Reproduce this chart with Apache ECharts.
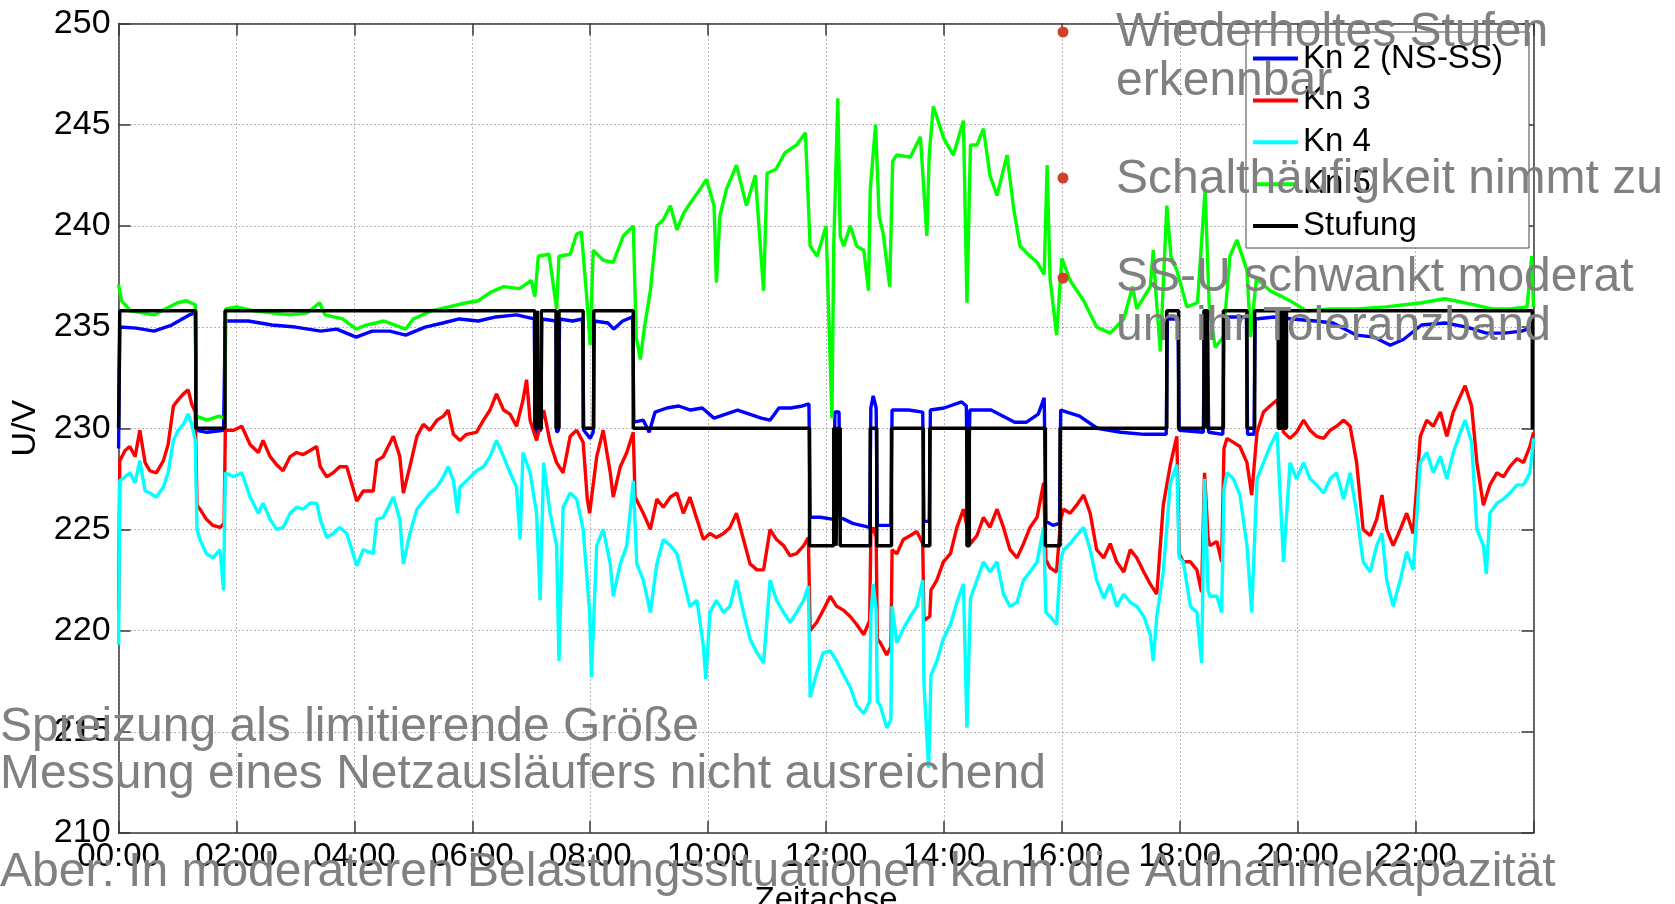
<!DOCTYPE html>
<html>
<head>
<meta charset="utf-8">
<script src="https://cdn.jsdelivr.net/npm/echarts@6/dist/echarts.min.js"></script>
<style>
html,body{margin:0;padding:0;background:#fff;}
#chart{width:1675px;height:904px;}
</style>
</head>
<body>
<div id="chart"></div>
<script>
// ---- data (hours of day, volts) ----
const seriesNames = ['Kn 2 (NS-SS)', 'Kn 3', 'Kn 4', 'Kn 5', 'Stufung'];
const xTickLabels = ['00:00','02:00','04:00','06:00','08:00','10:00','12:00','14:00','16:00','18:00','20:00','22:00'];
const yTicks = [210, 215, 220, 225, 230, 235, 240, 245, 250];

const kn2 = [[0,229.0],[0.02,235.0],[0.3,234.95],[0.6,234.8],[0.9,235.1],[1.2,235.6],[1.3,235.7],[1.32,229.9],[1.5,229.8],[1.78,229.9],[1.81,235.3],[2.2,235.3],[2.6,235.1],[3.0,235.0],[3.43,234.8],[3.7,234.9],[4.03,234.5],[4.3,234.8],[4.6,234.8],[4.87,234.6],[5.2,235.0],[5.5,235.2],[5.78,235.4],[6.1,235.3],[6.4,235.5],[6.75,235.6],[7.05,235.4],[7.07,229.8],[7.16,229.9],[7.18,235.4],[7.42,235.3],[7.43,229.8],[7.46,229.9],[7.48,235.4],[7.7,235.3],[7.87,235.4],[7.89,229.9],[8.0,229.5],[8.05,229.8],[8.07,235.3],[8.3,235.2],[8.4,234.9],[8.55,235.3],[8.72,235.5],[8.74,230.3],[8.9,230.4],[9.0,229.8],[9.1,230.8],[9.3,231.0],[9.5,231.1],[9.7,230.9],[9.9,231.0],[10.1,230.5],[10.3,230.7],[10.5,230.9],[10.7,230.7],[10.9,230.5],[11.05,230.4],[11.2,231.0],[11.4,231.0],[11.6,231.1],[11.71,231.2],[11.73,225.6],[11.9,225.6],[12.13,225.5],[12.15,230.8],[12.22,230.8],[12.24,225.6],[12.45,225.3],[12.74,225.1],[12.76,231.0],[12.8,231.6],[12.85,231.0],[12.87,225.2],[13.1,225.2],[13.12,230.9],[13.4,230.9],[13.64,230.8],[13.66,225.4],[13.75,225.4],[13.77,230.9],[14.0,231.0],[14.3,231.3],[14.38,231.1],[14.40,225.5],[14.42,225.5],[14.44,230.9],[14.8,230.9],[15.2,230.3],[15.4,230.3],[15.6,230.7],[15.7,231.5],[15.73,225.4],[15.85,225.2],[15.96,225.3],[15.98,230.9],[16.3,230.6],[16.6,230.0],[17.0,229.8],[17.4,229.7],[17.77,229.7],[17.79,235.4],[17.97,235.4],[17.99,229.9],[18.4,229.8],[18.42,235.4],[18.47,235.4],[18.49,229.8],[18.73,229.7],[18.75,235.5],[19.13,235.5],[19.15,229.7],[19.26,229.7],[19.28,235.4],[19.6,235.5],[19.9,235.4],[20.3,235.3],[20.6,235.2],[21.0,234.6],[21.3,234.5],[21.57,234.1],[21.8,234.4],[22.1,235.1],[22.5,235.2],[22.87,235.0],[23.2,234.7],[23.5,234.7],[23.8,234.8],[24,235.0]];

const kn3 = [[0,221.0],[0.02,228.4],[0.11,228.9],[0.19,229.1],[0.28,228.6],[0.36,229.9],[0.45,228.3],[0.53,227.9],[0.64,227.8],[0.76,228.4],[0.84,229.2],[0.93,231.1],[1.01,231.4],[1.1,231.7],[1.18,231.9],[1.24,231.2],[1.3,230.8],[1.33,226.2],[1.38,226.0],[1.49,225.5],[1.6,225.2],[1.72,225.1],[1.79,225.3],[1.81,229.9],[1.95,229.9],[2.09,230.1],[2.23,229.2],[2.37,228.8],[2.45,229.4],[2.57,228.6],[2.68,228.2],[2.79,227.9],[2.91,228.6],[3.02,228.8],[3.13,228.7],[3.25,228.9],[3.36,229.1],[3.42,228.1],[3.53,227.6],[3.64,227.8],[3.75,228.1],[3.87,228.1],[4.04,226.4],[4.15,226.9],[4.32,226.9],[4.38,228.4],[4.49,228.6],[4.66,229.6],[4.77,228.6],[4.83,226.8],[4.94,228.1],[5.06,229.6],[5.17,230.2],[5.28,229.9],[5.4,230.4],[5.51,230.6],[5.59,230.9],[5.68,229.7],[5.79,229.4],[5.9,229.7],[6.07,229.8],[6.19,230.4],[6.3,230.9],[6.41,231.7],[6.53,230.9],[6.64,230.7],[6.75,230.1],[6.86,231.4],[6.92,232.4],[6.98,230.4],[7.09,229.4],[7.21,230.9],[7.32,229.3],[7.43,228.3],[7.54,227.8],[7.66,229.6],[7.77,229.9],[7.88,229.3],[7.95,226.5],[7.99,225.8],[8.11,228.6],[8.22,229.9],[8.34,227.8],[8.39,226.6],[8.51,228.1],[8.62,228.8],[8.73,229.8],[8.76,226.6],[8.9,225.8],[9.02,225.0],[9.13,226.5],[9.24,226.1],[9.36,226.6],[9.47,226.8],[9.58,225.8],[9.69,226.6],[9.81,225.5],[9.92,224.5],[10.03,224.8],[10.14,224.6],[10.26,224.8],[10.37,225.1],[10.48,225.8],[10.6,224.5],[10.71,223.3],[10.83,223.0],[10.94,223.0],[11.05,225.0],[11.16,224.5],[11.28,224.2],[11.39,223.7],[11.5,223.8],[11.62,224.2],[11.7,224.6],[11.73,220.0],[11.84,220.4],[11.95,221.0],[12.07,221.7],[12.18,221.2],[12.3,221.0],[12.41,220.7],[12.52,220.3],[12.64,219.8],[12.74,220.5],[12.76,224.8],[12.8,225.1],[12.85,224.6],[12.87,219.6],[12.92,219.4],[13.03,218.8],[13.1,219.2],[13.12,224.0],[13.2,223.8],[13.31,224.5],[13.43,224.7],[13.54,224.9],[13.64,224.3],[13.66,220.5],[13.76,220.7],[13.78,222.0],[13.88,222.5],[13.99,223.4],[14.11,223.8],[14.22,225.1],[14.33,226.0],[14.45,224.3],[14.56,224.7],[14.67,225.6],[14.78,225.1],[14.9,226.0],[15.01,225.1],[15.12,224.0],[15.24,223.6],[15.35,224.3],[15.46,225.1],[15.58,225.6],[15.69,227.3],[15.73,223.5],[15.8,223.1],[15.91,222.9],[15.98,225.5],[16.03,226.0],[16.14,225.8],[16.25,226.2],[16.37,226.7],[16.48,225.8],[16.59,224.0],[16.71,223.6],[16.82,224.3],[16.93,223.4],[17.05,222.9],[17.16,224.0],[17.27,223.6],[17.39,222.9],[17.5,222.3],[17.61,221.8],[17.72,226.2],[17.84,228.2],[17.95,229.6],[17.99,223.8],[18.06,223.4],[18.18,223.4],[18.29,223.0],[18.37,221.9],[18.42,227.8],[18.48,224.6],[18.51,224.2],[18.63,224.4],[18.71,223.4],[18.75,229.0],[18.8,229.5],[18.91,229.3],[19.02,229.1],[19.14,228.3],[19.22,226.7],[19.31,229.8],[19.42,230.8],[19.53,231.1],[19.65,231.4],[19.76,229.8],[19.87,229.5],[19.98,229.8],[20.1,230.4],[20.21,229.9],[20.32,229.6],[20.44,229.5],[20.55,229.9],[20.66,230.1],[20.78,230.4],[20.89,230.1],[21.0,228.3],[21.11,225.0],[21.23,224.7],[21.34,225.5],[21.43,226.7],[21.51,225.0],[21.62,224.2],[21.74,225.0],[21.85,225.8],[21.96,224.8],[22.08,229.6],[22.19,230.4],[22.3,230.1],[22.42,230.8],[22.53,229.6],[22.64,230.8],[22.76,231.6],[22.84,232.1],[22.95,231.1],[23.04,228.3],[23.15,226.2],[23.26,227.2],[23.38,227.8],[23.49,227.6],[23.6,228.1],[23.72,228.5],[23.83,228.3],[23.94,229.1],[24,229.8]];

const kn4 = [[0,219.3],[0.02,227.4],[0.11,227.6],[0.19,227.8],[0.28,227.3],[0.36,228.4],[0.45,226.9],[0.53,226.8],[0.64,226.6],[0.76,227.1],[0.84,227.8],[0.93,229.4],[1.01,229.9],[1.1,230.2],[1.18,230.7],[1.24,230.2],[1.3,229.4],[1.33,225.0],[1.38,224.5],[1.49,223.8],[1.6,223.6],[1.72,224.0],[1.78,222.0],[1.81,227.8],[1.95,227.6],[2.09,227.8],[2.23,226.6],[2.37,225.8],[2.45,226.3],[2.57,225.5],[2.68,225.0],[2.79,225.1],[2.91,225.8],[3.02,226.1],[3.13,226.0],[3.25,226.3],[3.36,226.3],[3.42,225.5],[3.53,224.6],[3.64,224.8],[3.75,225.1],[3.87,224.8],[4.04,223.2],[4.15,224.0],[4.32,223.8],[4.38,225.5],[4.49,225.6],[4.66,226.6],[4.77,225.5],[4.83,223.3],[4.94,224.8],[5.06,226.0],[5.17,226.4],[5.28,226.8],[5.4,227.1],[5.51,227.6],[5.59,228.1],[5.68,227.4],[5.75,225.8],[5.79,227.1],[5.9,227.4],[6.07,227.9],[6.19,228.1],[6.3,228.6],[6.41,229.4],[6.53,228.6],[6.64,227.8],[6.75,227.1],[6.81,224.5],[6.86,228.8],[6.98,227.8],[7.09,225.8],[7.15,221.5],[7.21,228.3],[7.32,225.8],[7.43,224.2],[7.47,218.5],[7.54,226.1],[7.66,226.8],[7.77,226.5],[7.88,225.0],[7.99,220.9],[8.02,217.7],[8.11,224.2],[8.22,225.0],[8.34,223.3],[8.39,221.7],[8.51,223.3],[8.62,224.2],[8.73,227.4],[8.79,223.3],[8.9,222.5],[9.02,220.9],[9.13,223.3],[9.24,224.5],[9.36,224.2],[9.47,223.8],[9.58,222.5],[9.69,221.2],[9.81,221.5],[9.92,219.2],[9.96,217.6],[10.03,220.9],[10.14,221.5],[10.26,220.9],[10.37,221.2],[10.48,222.5],[10.6,220.9],[10.71,219.6],[10.83,218.9],[10.94,218.4],[11.05,222.5],[11.16,221.5],[11.28,220.9],[11.39,220.4],[11.5,220.9],[11.62,221.5],[11.7,222.2],[11.73,216.7],[11.84,217.9],[11.95,218.9],[12.07,219.0],[12.18,218.5],[12.3,217.8],[12.41,217.2],[12.52,216.3],[12.64,215.9],[12.74,216.5],[12.76,220.7],[12.8,222.3],[12.85,221.0],[12.87,216.5],[12.92,216.3],[13.03,215.2],[13.1,215.6],[13.12,221.2],[13.2,219.4],[13.31,220.1],[13.43,220.7],[13.54,221.2],[13.64,222.5],[13.66,217.4],[13.74,213.2],[13.78,217.8],[13.88,218.5],[13.99,219.6],[14.11,220.3],[14.22,221.4],[14.33,222.3],[14.39,215.2],[14.45,221.6],[14.56,222.5],[14.67,223.4],[14.78,222.9],[14.9,223.4],[15.01,221.8],[15.12,221.2],[15.24,221.4],[15.35,222.5],[15.46,222.9],[15.58,223.4],[15.69,225.1],[15.73,220.9],[15.8,220.7],[15.91,220.3],[15.98,223.5],[16.03,224.0],[16.14,224.3],[16.25,224.7],[16.37,225.1],[16.48,224.0],[16.59,222.5],[16.71,221.6],[16.82,222.3],[16.93,221.2],[17.05,221.8],[17.16,221.4],[17.27,221.2],[17.39,220.7],[17.5,219.8],[17.55,218.5],[17.61,220.7],[17.72,222.9],[17.84,227.3],[17.95,228.2],[17.99,223.6],[18.06,223.4],[18.18,221.2],[18.29,220.9],[18.37,218.4],[18.42,227.5],[18.48,222.0],[18.51,221.7],[18.63,221.7],[18.71,220.9],[18.75,227.0],[18.8,227.8],[18.91,227.5],[19.02,226.7],[19.14,224.2],[19.22,220.9],[19.31,227.5],[19.42,228.3],[19.53,229.1],[19.65,229.8],[19.76,223.4],[19.87,228.3],[19.98,227.5],[20.1,228.3],[20.21,227.5],[20.32,227.2],[20.44,226.8],[20.55,227.5],[20.66,227.8],[20.78,226.5],[20.89,227.8],[21.0,225.8],[21.11,223.4],[21.23,222.9],[21.34,224.2],[21.43,224.8],[21.51,222.5],[21.62,221.2],[21.74,222.5],[21.85,223.9],[21.96,223.0],[22.08,228.3],[22.19,228.8],[22.3,227.8],[22.42,228.6],[22.53,227.5],[22.64,228.8],[22.76,229.8],[22.84,230.4],[22.95,229.3],[23.04,225.0],[23.15,224.2],[23.2,222.8],[23.26,225.8],[23.38,226.3],[23.49,226.5],[23.6,226.8],[23.72,227.2],[23.83,227.2],[23.94,227.8],[24,229.5]];

const kn5 = [[0,237.1],[0.05,236.3],[0.2,235.8],[0.4,235.7],[0.6,235.6],[0.8,235.9],[1.0,236.2],[1.15,236.3],[1.3,236.1],[1.32,230.6],[1.5,230.4],[1.7,230.6],[1.8,230.5],[1.82,235.9],[2.0,236.0],[2.3,235.8],[2.6,235.7],[2.9,235.6],[3.2,235.7],[3.41,236.2],[3.5,235.6],[3.8,235.4],[4.03,234.9],[4.2,235.1],[4.5,235.3],[4.87,234.9],[5.0,235.4],[5.3,235.8],[5.6,236.0],[5.9,236.2],[6.1,236.3],[6.3,236.7],[6.53,237.0],[6.8,236.9],[7.0,237.3],[7.06,236.5],[7.12,238.5],[7.3,238.6],[7.43,235.9],[7.47,238.5],[7.66,238.6],[7.77,239.6],[7.85,239.7],[7.94,236.5],[8.0,234.1],[8.05,238.8],[8.22,238.3],[8.39,238.2],[8.56,239.5],[8.73,240.0],[8.78,234.5],[8.85,233.4],[8.92,235.0],[9.02,236.8],[9.13,240.0],[9.24,240.3],[9.36,241.0],[9.47,239.8],[9.58,240.6],[9.69,241.1],[9.86,241.8],[9.97,242.3],[10.1,241.0],[10.14,237.2],[10.2,240.5],[10.31,241.8],[10.48,243.0],[10.65,241.0],[10.8,242.5],[10.94,236.8],[11.0,242.6],[11.15,242.8],[11.3,243.6],[11.5,244.0],[11.65,244.6],[11.73,239.0],[11.85,238.5],[12.0,240.0],[12.1,230.5],[12.13,239.0],[12.2,246.3],[12.24,239.5],[12.3,239.0],[12.41,240.0],[12.52,239.0],[12.64,238.8],[12.72,236.8],[12.75,241.8],[12.84,245.0],[12.9,240.5],[12.97,239.6],[13.08,237.0],[13.13,243.2],[13.2,243.5],[13.43,243.4],[13.6,244.4],[13.71,239.5],[13.75,243.5],[13.82,245.9],[14.0,244.3],[14.16,243.5],[14.33,245.2],[14.39,236.2],[14.45,244.0],[14.56,244.0],[14.67,244.8],[14.78,242.5],[14.9,241.5],[15.07,243.5],[15.18,240.9],[15.29,239.0],[15.46,238.5],[15.58,238.2],[15.7,237.6],[15.75,243.0],[15.8,237.4],[15.91,234.6],[16.0,238.4],[16.14,237.3],[16.37,236.3],[16.59,235.0],[16.82,234.7],[17.05,235.4],[17.2,237.0],[17.27,235.9],[17.5,237.0],[17.55,238.8],[17.6,236.5],[17.67,233.8],[17.78,241.0],[17.85,238.5],[17.95,237.8],[18.12,236.0],[18.3,236.2],[18.43,241.8],[18.5,236.0],[18.6,234.0],[18.74,234.5],[18.85,238.5],[18.97,239.3],[19.14,237.8],[19.2,234.5],[19.3,237.4],[19.53,236.8],[19.87,236.3],[20.15,235.8],[20.55,235.9],[21.0,235.9],[21.5,236.0],[22.1,236.2],[22.5,236.4],[23.0,236.1],[23.3,235.9],[23.6,235.9],[23.89,236.0],[23.97,238.5],[24,236.0]];

// tap-changer level, held from each time until the next one
const stufung = [[0,230],[0.02,235.8],[1.31,230],[1.805,235.8],[7.06,230],[7.1,235.8],[7.12,230],[7.17,235.8],[7.42,230],[7.47,235.8],[7.88,230],[8.06,235.8],[8.73,230],[11.72,224.2],[12.13,230],[12.17,224.2],[12.2,230],[12.24,224.2],[12.75,230],[12.86,224.2],[13.11,230],[13.65,224.2],[13.76,230],[14.39,224.2],[14.43,230],[15.72,224.2],[15.97,230],[17.78,235.8],[17.98,230],[18.41,235.8],[18.47,230],[18.74,235.8],[19.14,230],[19.27,235.8],[19.67,230],[19.72,235.8],[19.76,230],[19.81,235.8],[23.98,230],[24,230]];

// slide annotations
const bulletTexts = [['Wiederholtes Stufen','erkennbar'],['Schalthäufigkeit nimmt zu'],['SS-U schwankt moderat','um ihr Toleranzband']];
const bottomTexts = ['Spreizung als limitierende Größe','Messung eines Netzausläufers nicht ausreichend','Aber: In moderateren Belastungssituationen kann die Aufnahmekapazität'];

// ---- chart ----
const FONT = '"Liberation Sans", Arial, Helvetica, sans-serif';
const chart = echarts.init(document.getElementById('chart'), null, {renderer:'canvas'});
const axisCol = '#3a3a3a';
const gridLine = {show:true, lineStyle:{type:[1,3], color:'#707070', width:1}};

const graphics = [
  {type:'rect', z:3, shape:{x:1246, y:32, width:283, height:216},
   style:{fill:'#ffffff', stroke:'#444', lineWidth:1}}
];
const bulletY = [[33,82],[180],[278,327]];
const bulletDotY = [32,178,278];
bulletTexts.forEach((lines, i) => {
  graphics.push({type:'circle', z:100, shape:{cx:1063, cy:bulletDotY[i], r:5.5}, style:{fill:'#d0412a'}});
  lines.forEach((t, j) => {
    graphics.push({type:'text', z:100, style:{text:t, x:1116, y:bulletY[i][j], fill:'#808080',
      font:'48px ' + FONT, verticalAlign:'middle', align:'left'}});
  });
});
const bottomY = [728, 775, 873];
bottomTexts.forEach((t, i) => {
  graphics.push({type:'text', z:100, style:{text:t, x:0, y:bottomY[i], fill:'#808080',
    font:'48px ' + FONT, verticalAlign:'middle', align:'left'}});
});

const colors = ['#0000ff','#ff0000','#00ffff','#00ff00','#000000'];
const datasets = [kn2, kn3, kn4, kn5, stufung];

chart.setOption({
  animation:false,
  backgroundColor:'#ffffff',
  textStyle:{fontFamily:FONT},
  grid:{left:118.6, right:141.5, top:23.5, bottom:71, containLabel:false, outerBoundsMode:'none'},
  legend:{
    orient:'vertical', left:1253, top:42, padding:0, itemGap:8.9,
    itemWidth:45, itemHeight:4, icon:'rect', z:4,
    data:seriesNames,
    textStyle:{fontSize:33, color:'#000', fontFamily:FONT, lineHeight:33}
  },
  xAxis:[
    {type:'value', min:0, max:24, interval:2, position:'bottom',
     name:'Zeitachse', nameLocation:'middle', nameGap:51,
     nameTextStyle:{fontSize:33, color:'#000', fontFamily:FONT, lineHeight:33, verticalAlign:'top'},
     axisLine:{show:true, onZero:false, lineStyle:{color:axisCol, width:1.5}},
     axisTick:{show:true, inside:true, length:12, lineStyle:{color:axisCol, width:1.5}},
     axisLabel:{fontSize:33, lineHeight:33, color:'#000', margin:7.5, fontFamily:FONT,
       formatter:(v)=> xTickLabels[Math.round(v/2)] || ''},
     splitLine:gridLine},
    {type:'value', min:0, max:24, interval:2, position:'top',
     axisLine:{show:true, onZero:false, lineStyle:{color:axisCol, width:1.5}},
     axisTick:{show:true, inside:true, length:12, lineStyle:{color:axisCol, width:1.5}},
     axisLabel:{show:false}, splitLine:{show:false}}
  ],
  yAxis:[
    {type:'value', min:yTicks[0], max:yTicks[yTicks.length-1], interval:5, position:'left',
     name:'U/V', nameLocation:'middle', nameGap:48, nameRotate:90,
     nameTextStyle:{fontSize:34, color:'#000', fontFamily:FONT},
     axisLine:{show:true, onZero:false, lineStyle:{color:axisCol, width:1.5}},
     axisTick:{show:true, inside:true, length:12, lineStyle:{color:axisCol, width:1.5}},
     axisLabel:{fontSize:34, lineHeight:34, color:'#000', margin:8, fontFamily:FONT},
     splitLine:gridLine},
    {type:'value', min:yTicks[0], max:yTicks[yTicks.length-1], interval:5, position:'right',
     axisLine:{show:true, onZero:false, lineStyle:{color:axisCol, width:1.5}},
     axisTick:{show:true, inside:true, length:12, lineStyle:{color:axisCol, width:1.5}},
     axisLabel:{show:false}, splitLine:{show:false}}
  ],
  series: seriesNames.map((name, i) => ({
    name, type:'line', data:datasets[i], xAxisIndex:0, yAxisIndex:0,
    symbol:'none', showSymbol:false, silent:true,
    step: i === 4 ? 'end' : undefined,
    color:colors[i],
    itemStyle:{color:colors[i]},
    lineStyle:{color:colors[i], width: i === 4 ? 3.5 : 3.4},
    z: 2 + i * 0.01
  })),
  graphic: graphics
});
</script>
</body>
</html>
